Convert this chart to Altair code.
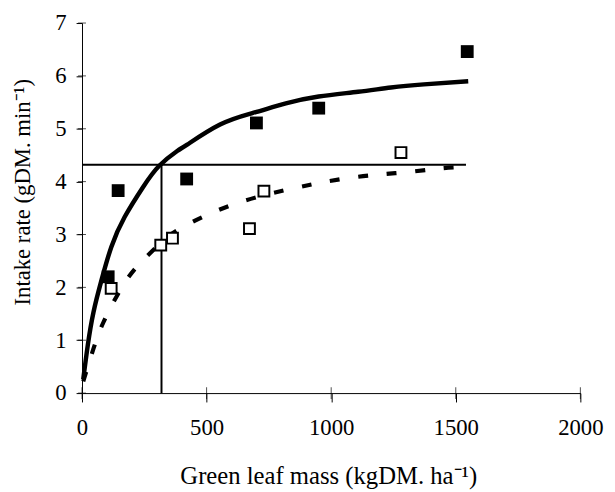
import altair as alt
import pandas as pd

# --- data ---
filled_x = [105, 145, 420, 700, 950, 1546]
filled_y = [2.20, 3.83, 4.05, 5.11, 5.39, 6.46]

open_x = [117, 316, 363, 672, 730, 1280]
open_y = [1.98, 2.80, 2.93, 3.11, 3.82, 4.55]

solid_x = [5, 23, 46, 79, 118, 171, 244, 310, 382, 422, 554, 686, 818, 950, 1108, 1240, 1372, 1550]
solid_y = [0.26, 0.90, 1.53, 2.15, 2.77, 3.33, 3.89, 4.30, 4.58, 4.70, 5.08, 5.30, 5.48, 5.61, 5.70, 5.78, 5.84, 5.90]

dash_x = [5, 46, 86, 145, 211, 300, 396, 620, 857, 970, 1088, 1207, 1326, 1438, 1540]
dash_y = [0.22, 0.84, 1.34, 1.88, 2.34, 2.77, 3.12, 3.59, 3.88, 3.99, 4.08, 4.14, 4.19, 4.25, 4.28]

ref_level = 4.32      # horizontal reference line (intake rate)
ref_mass = 319        # vertical reference line (green leaf mass)
ref_end = 1541        # end of horizontal reference line

x_ticks = [0, 500, 1000, 1500, 2000]
y_ticks = [0, 1, 2, 3, 4, 5, 6, 7]

x_title = "Green leaf mass (kgDM. ha\u207b\u00b9)"
y_title = "Intake rate (gDM. min\u207b\u00b9)"

FONT = "Liberation Serif"

filled_df = pd.DataFrame({"x": filled_x, "y": filled_y})
open_df = pd.DataFrame({"x": open_x, "y": open_y})
solid_df = pd.DataFrame({"x": solid_x, "y": solid_y})
dash_df = pd.DataFrame({"x": dash_x, "y": dash_y})
hline_df = pd.DataFrame({"x": [0], "x2": [ref_end], "y": [ref_level]})
vline_df = pd.DataFrame({"x": [ref_mass], "y": [0], "y2": [ref_level]})
xt_df = pd.DataFrame({"x": x_ticks, "y": [0] * len(x_ticks)})
yt_df = pd.DataFrame({"x": [0] * len(y_ticks), "y": y_ticks})

xscale = alt.Scale(domain=[0, 2000], nice=False, zero=True)
yscale = alt.Scale(domain=[0, 7], nice=False, zero=True)

xaxis = alt.Axis(
    title=x_title, values=x_ticks, grid=False, format="d",
    tickSize=9, labelPadding=33, labelBaseline="alphabetic",
    titleY=92, titleX=249.5, titleBaseline="alphabetic",
    labelFont=FONT, labelFontSize=23, labelColor="black",
    titleFont=FONT, titleFontSize=25, titleColor="black", titleFontWeight="normal",
    domainColor="black", tickColor="black", labelFlush=False, labelOverlap=False,
)
yaxis = alt.Axis(
    title=y_title, values=y_ticks, grid=False, format="d",
    tickSize=6, labelPadding=10, labelBaseline="middle",
    titleX=-60, titleY=171, titleBaseline="middle", titleAlign="center",
    labelFont=FONT, labelFontSize=23, labelColor="black",
    titleFont=FONT, titleFontSize=23, titleColor="black", titleFontWeight="normal",
    domainColor="black", tickColor="black", labelFlush=False, labelOverlap=False,
)

X = alt.X("x:Q", scale=xscale, axis=xaxis)
Y = alt.Y("y:Q", scale=yscale, axis=yaxis)

solid = alt.Chart(solid_df).mark_line(color="black", strokeWidth=4.5, interpolate="natural").encode(x=X, y=Y)
dashed = alt.Chart(dash_df).mark_line(
    color="black", strokeWidth=4.2, strokeDash=[10, 19], interpolate="natural"
).encode(x="x:Q", y="y:Q")
hline = alt.Chart(hline_df).mark_rule(color="black", strokeWidth=2).encode(x="x:Q", x2="x2:Q", y="y:Q")
vline = alt.Chart(vline_df).mark_rule(color="black", strokeWidth=2).encode(x="x:Q", y="y:Q", y2="y2:Q")
open_pts = alt.Chart(open_df).mark_square(
    size=121, filled=True, fill="white", stroke="black", strokeWidth=2, opacity=1
).encode(x="x:Q", y="y:Q")
filled_pts = alt.Chart(filled_df).mark_square(size=169, color="black", opacity=1).encode(x="x:Q", y="y:Q")
xticks_in = alt.Chart(xt_df).mark_tick(orient="vertical", size=12, thickness=1, color="black").encode(x="x:Q", y="y:Q")
yticks_in = alt.Chart(yt_df).mark_tick(orient="horizontal", size=8, thickness=1, color="black").encode(x="x:Q", y="y:Q")

chart = alt.layer(
    solid, dashed, hline, vline, open_pts, filled_pts, xticks_in, yticks_in
).properties(
    width=505, height=375,
    background="white",
    autosize=alt.AutoSizeParams(type="none"),
    padding={"left": 75, "top": 12, "right": 27, "bottom": 97},
).configure_view(stroke=None).configure_axis(domainWidth=1, tickWidth=1)

chart.save("out.html", embed_options={"renderer": "svg", "actions": False})
